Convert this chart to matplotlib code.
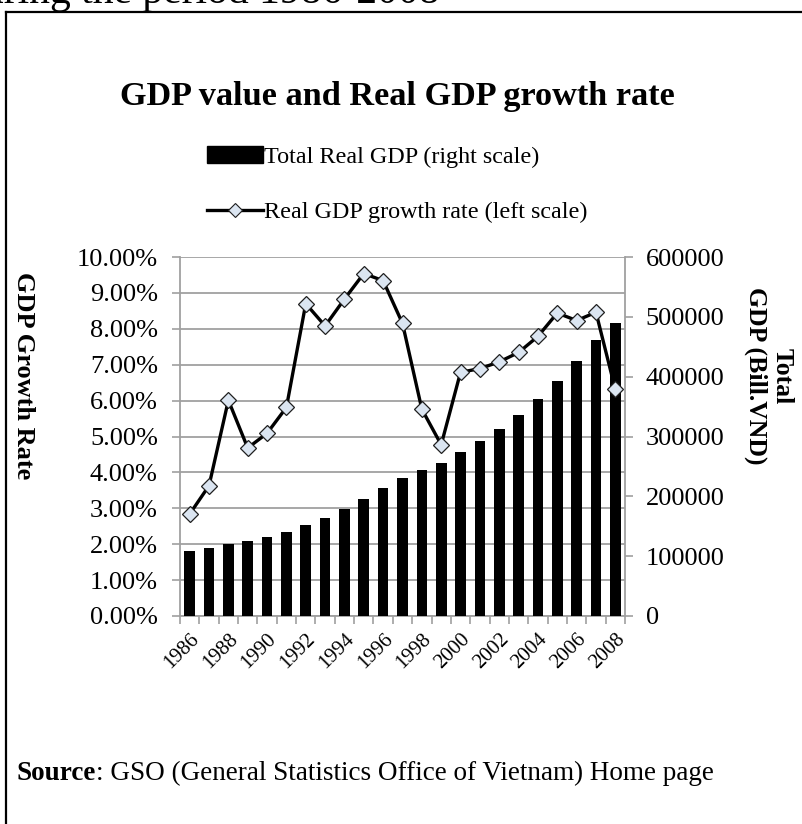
import matplotlib
matplotlib.use('Agg')
import matplotlib.pyplot as plt
from matplotlib.lines import Line2D
from matplotlib.patches import Patch
from matplotlib.ticker import FuncFormatter, MultipleLocator
import numpy as np

plt.rcParams['font.family'] = ['Liberation Serif', 'DejaVu Serif']

years = list(range(1986, 2009))
growth = [2.84, 3.63, 6.01, 4.68, 5.09, 5.81, 8.70, 8.08, 8.83, 9.54, 9.34, 8.15,
          5.76, 4.77, 6.79, 6.89, 7.08, 7.34, 7.79, 8.44, 8.23, 8.46, 6.31]
gdp = [109189, 113154, 119960, 125571, 131968, 139634, 151782, 164043, 178534,
       195567, 213833, 231264, 244596, 256272, 273666, 292535, 313247, 336242,
       362435, 393031, 425373, 461344, 490458]
year_labels = [str(y) if y % 2 == 0 else '' for y in years]

W, H = 802, 824
fig = plt.figure(figsize=(W / 100, H / 100), dpi=100)

grey = '#a0a0a0'
pos = [180 / W, 1 - 616 / H, (625 - 180) / W, (616 - 257) / H]
x = np.arange(len(years))

# base axes: left scale + grid
ax1 = fig.add_axes(pos)
ax1.set_xlim(-0.5, len(years) - 0.5)
ax1.set_ylim(0, 10)
ax1.yaxis.set_major_locator(MultipleLocator(1))
ax1.yaxis.set_major_formatter(FuncFormatter(lambda v, p: '%.2f%%' % v))
ax1.grid(axis='y', color=grey, lw=1.3)
ax1.set_axisbelow(True)
ax1.tick_params(axis='y', labelsize=19, color=grey, length=6, width=1.2, pad=10)
ax1.set_xticks(x)
ax1.set_xticklabels(year_labels, rotation=45, ha='right', va='top',
                    rotation_mode='anchor', fontsize=15)
ax1.tick_params(axis='x', which='major', length=0, pad=10)
ax1.set_xticks(np.arange(-0.5, len(years), 1), minor=True)
ax1.tick_params(axis='x', which='minor', length=6, color=grey, width=1.2)
for s in ['top', 'right']:
    ax1.spines[s].set_visible(False)
for s in ['left', 'bottom']:
    ax1.spines[s].set_color(grey)
    ax1.spines[s].set_linewidth(1.3)

# bars on right scale
ax2 = ax1.twinx()
ax2.bar(x, gdp, width=0.55, color='black', zorder=2)
ax2.set_ylim(0, 600000)
ax2.yaxis.set_major_locator(MultipleLocator(100000))
ax2.tick_params(axis='y', labelsize=19, color=grey, length=6, width=1.2, pad=9)
for s in ['top', 'left', 'bottom']:
    ax2.spines[s].set_visible(False)
ax2.spines['right'].set_color(grey)
ax2.spines['right'].set_linewidth(1.3)

# line on top
ax3 = fig.add_axes(pos, sharex=ax1)
ax3.set_ylim(0, 10)
ax3.plot(x, growth, color='black', lw=2.4, marker='D', markersize=8,
         markerfacecolor='#dbe5f1', markeredgecolor='#1f1f1f', markeredgewidth=0.9)
ax3.axis('off')

fig.text(0.495, 1 - 97 / H, 'GDP value and Real GDP growth rate', ha='center',
         va='center', fontsize=24.7, fontweight='bold')

handles = [Patch(facecolor='black', edgecolor='black'),
           Line2D([], [], color='black', lw=2.4, marker='D', markersize=7,
                  markerfacecolor='#dbe5f1', markeredgecolor='#1f1f1f',
                  markeredgewidth=0.8)]
fig.legend(handles, ['Total Real GDP (right scale)', 'Real GDP growth rate (left scale)'],
           loc='upper left', bbox_to_anchor=(207 / W, 1 - 146 / H), frameon=False,
           fontsize=17.4, handlelength=2.3, handletextpad=0.05, labelspacing=1.38,
           borderpad=0, borderaxespad=0)

fig.text(23 / W, 1 - 272 / H, 'GDP Growth Rate', rotation=270, ha='center',
         va='top', fontsize=19, fontweight='bold')
fig.text(769 / W, 1 - 376 / H, 'Total\nGDP (Bill.VND)', rotation=270, ha='center',
         va='center', multialignment='center', fontsize=18.5, fontweight='bold',
         linespacing=1.2)

t = fig.text(17 / W, 1 - 773 / H, 'Source', fontsize=19.5, fontweight='bold', va='center')
fig.canvas.draw()
bb = t.get_window_extent()
fig.text(bb.x1 / W, 1 - 773 / H, ': GSO (General Statistics Office of Vietnam) Home page',
         fontsize=19.5, va='center')

# cropped heading from the page above
fig.text(440 / W, 1 - 3 / H, 'during the period 1986-2008', ha='right', va='baseline',
         fontsize=30)

# page frame
fig.add_artist(Line2D([6 / W, 6 / W], [0, 1 - 12 / H], color='black', lw=1.6))
fig.add_artist(Line2D([6 / W, 1], [1 - 12 / H, 1 - 12 / H], color='black', lw=1.6))

fig.savefig('out.png', dpi=100)
